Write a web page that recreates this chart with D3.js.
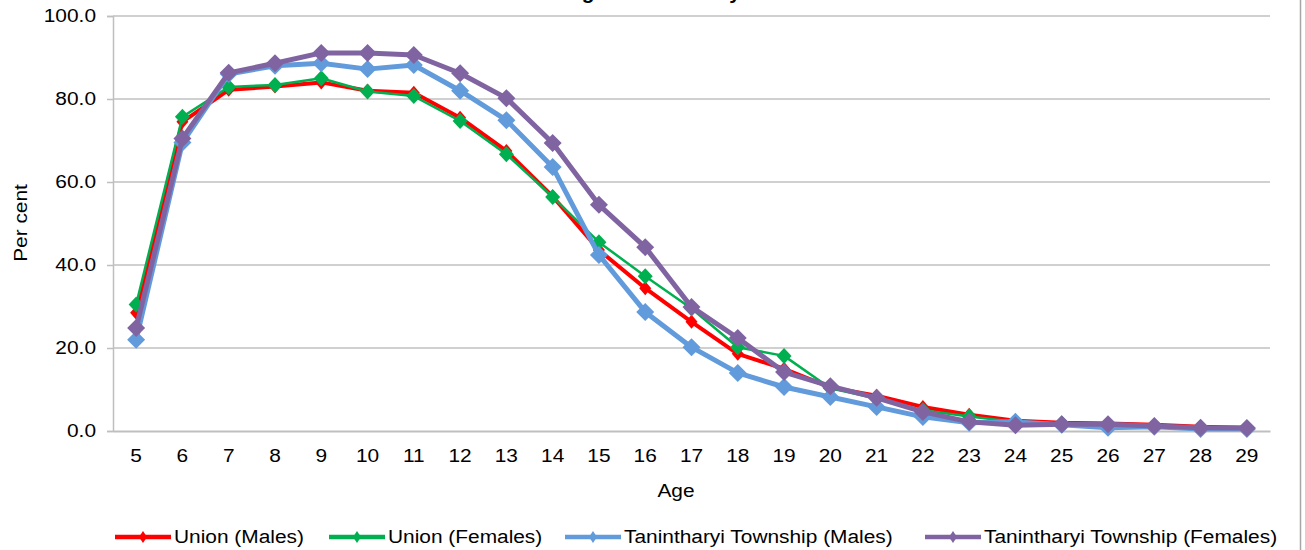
<!DOCTYPE html>
<html>
<head>
<meta charset="utf-8">
<script src="https://cdn.jsdelivr.net/npm/d3@7"></script>
<style>
  html, body { margin: 0; padding: 0; background: #fff; }
  svg { display: block; font-family: "Liberation Sans", Arial, sans-serif; }
</style>
</head>
<body>
<svg id="chart" width="1305" height="550"></svg>
<script>
// ---- data ----
const ages = ["5","6","7","8","9","10","11","12","13","14","15","16","17","18","19","20","21","22","23","24","25","26","27","28","29"];
const unionMales    = [28.5, 74.5, 82.2, 83.0, 84.0, 82.0, 81.5, 75.5, 67.5, 56.5, 43.6, 34.4, 26.3, 18.6, 15.0, 10.5, 8.5, 5.8, 3.9, 2.5, 2.0, 1.8, 1.5, 1.0, 0.8];
const unionFemales  = [30.5, 75.7, 82.9, 83.4, 85.0, 81.8, 80.7, 74.7, 66.7, 56.4, 45.5, 37.3, 29.5, 20.2, 18.1, 10.3, 7.8, 5.0, 3.5, 2.2, 1.8, 1.5, 1.2, 0.9, 0.7];
const tanMales      = [22.0, 69.5, 86.0, 88.0, 88.6, 87.2, 88.2, 82.0, 74.9, 63.6, 42.4, 28.7, 20.2, 14.0, 10.6, 8.2, 5.8, 3.4, 2.0, 2.2, 1.5, 0.8, 1.0, 0.5, 0.5];
const tanFemales    = [24.8, 70.5, 86.3, 88.6, 91.1, 91.1, 90.6, 86.2, 80.2, 69.4, 54.5, 44.3, 29.9, 22.4, 14.2, 10.8, 8.0, 4.6, 2.2, 1.4, 1.6, 1.6, 1.2, 0.8, 0.7];
const seriesNames = ["Union (Males)", "Union (Females)", "Tanintharyi Township (Males)", "Tanintharyi Township (Females)"];
const yTicks = [0, 20, 40, 60, 80, 100];
const titleText = "Attending school rate by sex";
const xTitle = "Age";
const yTitle = "Per cent";

// ---- styles ----
const styles = [
  { color: "#FF0000", width: 4,   mw: 6,   mh: 7 },
  { color: "#00B050", width: 2.5, mw: 7.5, mh: 8 },
  { color: "#629BDB", width: 5,   mw: 9,   mh: 9 },
  { color: "#8064A2", width: 5,   mw: 9,   mh: 9 }
];
const allSeries = [unionMales, unionFemales, tanMales, tanFemales];

const svg = d3.select("#chart");
const SX = 1.16, FS = 18;
function txt(sel, px, py, s, anchor, rot) {
  const g = sel.append("g").attr("transform", `translate(${px},${py})` + (rot ? ` rotate(${rot})` : "") + ` scale(${SX},1)`);
  g.append("text").attr("x", 0).attr("y", 0).attr("text-anchor", anchor || "start")
    .attr("font-size", FS).attr("fill", "#000").text(s);
  return g;
}

const plotL = 113, plotR = 1270, plotT = 16, plotB = 431;
const x = d3.scaleBand().domain(ages).range([plotL, plotR]);
const y = d3.scaleLinear().domain([0, 100]).range([plotB, plotT]);

// title (cropped at top edge in the reference: only descenders show)
const title = svg.append("text").attr("x", 0).attr("y", -1)
  .attr("font-size", 20).attr("font-weight", "bold").text(titleText);
(function placeTitle() {
  const node = title.node();
  const gi = titleText.indexOf("g"), yi = titleText.lastIndexOf("y");
  const cx = i => { const e = node.getExtentOfChar(i); return e.x + e.width / 2; };
  const d = cx(yi) - cx(gi);
  const fs = 20 * 147 / d;
  title.attr("font-size", fs);
  title.attr("x", 588 - cx(gi));
})();

// right border
svg.append("line").attr("x1", 1300.5).attr("x2", 1300.5).attr("y1", 0).attr("y2", 550)
  .attr("stroke", "#a6a6a6").attr("stroke-width", 1.5);

// gridlines
svg.append("g").selectAll("line").data(yTicks.filter(d => d > 0)).join("line")
  .attr("x1", plotL).attr("x2", plotR).attr("y1", d => y(d)).attr("y2", d => y(d))
  .attr("stroke", "#d0d0d0").attr("stroke-width", 1.8);

// y axis
const yAxis = svg.append("g").attr("transform", `translate(${plotL},0)`)
  .call(d3.axisLeft(y).tickValues(yTicks).tickSize(6).tickFormat(() => ""));
yAxis.select(".domain").attr("stroke", "#bfbfbf").attr("stroke-width", 1.5);
yAxis.selectAll(".tick line").attr("stroke", "#bfbfbf").attr("stroke-width", 1.5);
yTicks.forEach(t => txt(svg, 96, y(t) + 6, d3.format(".1f")(t), "end"));

// x axis
const xAxis = svg.append("g").attr("transform", `translate(0,${plotB})`)
  .call(d3.axisBottom(x).tickSize(0).tickFormat(() => ""));
xAxis.select(".domain").attr("stroke", "#bfbfbf").attr("stroke-width", 1.8);
ages.forEach(a => txt(svg, x(a) + x.bandwidth() / 2, 462, a, "middle"));

// axis titles
txt(svg, 676, 497, xTitle, "middle");
txt(svg, 27, 223, yTitle, "middle", -90);

// series
const diamond = (w, h) => `M0,${-h}L${w},0L0,${h}L${-w},0Z`;
const line = d3.line().x((d, i) => x(ages[i]) + x.bandwidth() / 2).y(d => y(d));
allSeries.forEach((data, k) => {
  const st = styles[k];
  const g = svg.append("g");
  g.append("path").datum(data).attr("d", line).attr("fill", "none")
    .attr("stroke", st.color).attr("stroke-width", st.width).attr("stroke-linejoin", "round");
  g.selectAll("path.m").data(data).join("path").attr("class", "m")
    .attr("transform", (d, i) => `translate(${x(ages[i]) + x.bandwidth() / 2},${y(d)})`)
    .attr("d", diamond(st.mw, st.mh)).attr("fill", st.color);
});

// legend
const legX = [115, 329, 565, 925];
seriesNames.forEach((name, k) => {
  const st = styles[k];
  const g = svg.append("g");
  g.append("line").attr("x1", legX[k]).attr("x2", legX[k] + 56).attr("y1", 537).attr("y2", 537)
    .attr("stroke", st.color).attr("stroke-width", 4.5);
  g.append("path").attr("transform", `translate(${legX[k] + 28},537)`).attr("d", diamond(4, 6)).attr("fill", st.color);
  txt(svg, legX[k] + 59, 543, name, "start");
});
</script>
</body>
</html>
